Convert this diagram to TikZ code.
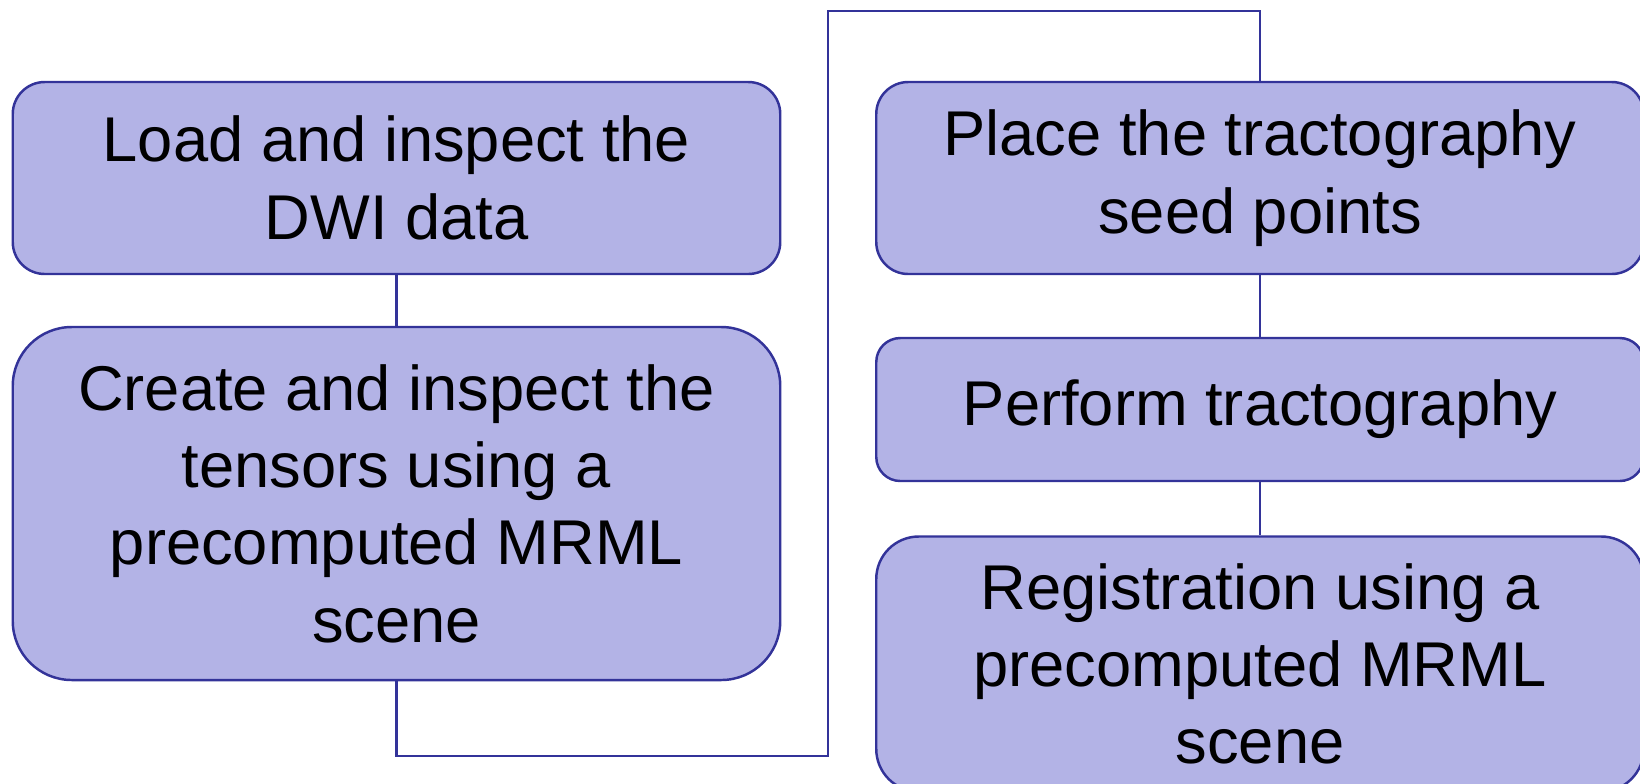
\documentclass[tikz,border=0pt]{standalone}
\usepackage{fontspec}
\setmainfont{Liberation Sans}
\definecolor{boxfill}{RGB}{179,179,230}
\definecolor{boxline}{RGB}{51,51,153}
\begin{document}
\begin{tikzpicture}[
        stepbox/.style={draw=boxline, fill=boxfill, line width=1.4pt, rectangle, rounded corners=#1, minimum width=15.35cm, align=center, inner sep=0pt, font=\fontsize{36}{44}\selectfont},
        wire/.style={draw=boxline, line width=1.4pt}
    ]
    \useasboundingbox (0,0) rectangle (32.8,-15.66);

    % --- LEFT COLUMN ---
    \node[stepbox=0.64cm, minimum height=3.84cm] (loaddwi) at (7.93,-3.56) {Load and inspect the\\DWI data};
    \node[stepbox=1.18cm, minimum height=7.06cm] (tensors) at (7.93,-10.07) {Create and inspect the\\tensors using a\\precomputed MRML\\scene};

    % --- RIGHT COLUMN ---
    \node[stepbox=0.64cm, minimum height=3.84cm] (seeds) at (25.2,-3.56) {Place the tractography\\seed points};
    \node[stepbox=0.48cm, minimum height=2.86cm] (tracto) at (25.2,-8.19) {Perform tractography};
    \node[stepbox=0.85cm, minimum height=5.1cm] (registr) at (25.2,-13.28) {Registration using a\\precomputed MRML\\scene};

    % --- CONNECTORS ---
    \coordinate (lowturn) at (16.56,-15.12);
    \coordinate (highturn) at (16.56,-0.22);
    \draw[wire] (loaddwi) -- (tensors);
    \draw[wire] (tensors.south) |- (lowturn) -- (highturn) -| (seeds.north);
    \draw[wire] (seeds) -- (tracto);
    \draw[wire] (tracto) -- (registr);

    \end{tikzpicture}
\end{document}
